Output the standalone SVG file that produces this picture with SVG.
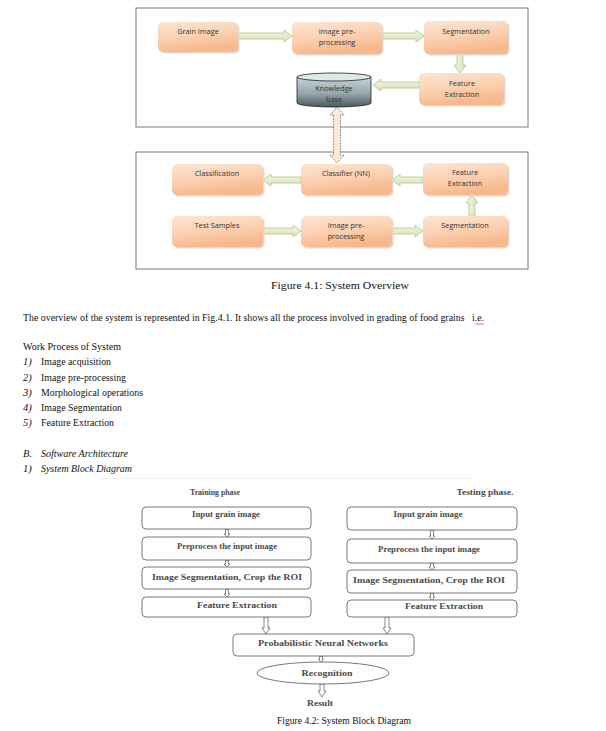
<svg xmlns="http://www.w3.org/2000/svg" width="606" height="731" viewBox="0 0 606 731">
<defs>
<linearGradient id="og" x1="0" y1="0" x2="0.3" y2="1">
<stop offset="0" stop-color="#fde6d5"/>
<stop offset="0.55" stop-color="#fbd0b0"/>
<stop offset="1" stop-color="#f6b88c"/>
</linearGradient>
<linearGradient id="gh" x1="0" y1="0" x2="0" y2="1">
<stop offset="0" stop-color="#f3f6e6"/>
<stop offset="1" stop-color="#d8e2b8"/>
</linearGradient>
<linearGradient id="gv" x1="0" y1="0" x2="1" y2="0">
<stop offset="0" stop-color="#f3f6e6"/>
<stop offset="1" stop-color="#d8e2b8"/>
</linearGradient>
<linearGradient id="cyl" x1="0" y1="0" x2="0" y2="1">
<stop offset="0" stop-color="#c6d3d7"/>
<stop offset="0.55" stop-color="#95a8ad"/>
<stop offset="1" stop-color="#4a585c"/>
</linearGradient>
</defs>
<style>
.frame{fill:#fff;stroke:#7a7a7a;stroke-width:1}
.on{fill:url(#og);stroke:none}
.sh{fill:#e9d6c9}
.nt{font-family:"Open Sans","Liberation Sans",sans-serif;font-size:7.3px;fill:#333;text-anchor:middle}
.ga{fill:url(#gh);stroke:#b4c488;stroke-width:0.8}
.gav{fill:url(#gv);stroke:#b4c488;stroke-width:0.8}
.body{font-family:"Liberation Serif","Times New Roman",serif;font-size:10.5px;fill:#111}
.it{font-style:italic}
.cap{font-family:"Liberation Serif","Times New Roman",serif;font-size:11px;fill:#111;text-anchor:middle}
.bx{fill:#fff;stroke:#6a6a6a;stroke-width:0.9}
.bt{font-family:"Liberation Serif","Times New Roman",serif;font-size:8px;font-weight:bold;fill:#4a4a4a;text-anchor:middle}
.ha{fill:#fff;stroke:#555;stroke-width:0.7}
</style>
<rect width="606" height="731" fill="#fff"/>

<!-- Figure 4.1 frames -->
<rect class="frame" x="136" y="8" width="392" height="119"/>
<rect class="frame" x="136" y="152" width="392" height="117"/>

<!-- connectors -->
<g id="connectors">
<path class="ga" d="M238,33 L284,33 L284,30 L292,36 L284,42 L284,39 L238,39 Z"/>
<path class="ga" d="M382,33 L416,33 L416,30 L424,36 L416,42 L416,39 L382,39 Z"/>
<path class="gav" d="M457,54 L457,65 L454,65 L460,73 L466,65 L463,65 L463,54 Z"/>
<path class="ga" d="M419,82 L381,82 L381,79 L373,85 L381,91 L381,88 L419,88 Z"/>
<path d="M333.5,115 L330,115 L337,107 L344,115 L340.5,115 L340.5,155 L344,155 L337,163 L330,155 L333.5,155 Z" fill="#fde9d9" stroke="#666" stroke-width="0.8" stroke-dasharray="1.6,1.2"/>
<path class="ga" d="M301,177 L271,177 L271,174 L263,180 L271,186 L271,183 L301,183 Z"/>
<path class="ga" d="M423,177 L400,177 L400,174 L392,180 L400,186 L400,183 L423,183 Z"/>
<path class="ga" d="M263,228 L293,228 L293,225 L301,231 L293,237 L293,234 L263,234 Z"/>
<path class="ga" d="M392,228 L415,228 L415,225 L423,231 L415,237 L415,234 L392,234 Z"/>
<path class="gav" d="M469,216 L469,203 L466,203 L472,195 L478,203 L475,203 L475,216 Z"/>

<!-- Figure 4.2 connectors -->
<path class="ha" d="M225.5,529.5 L225.5,534 L224,534 L227,537 L230,534 L228.5,534 L228.5,529.5 Z"/>
<path class="ha" d="M225.5,560.5 L225.5,564 L224,564 L227,567 L230,564 L228.5,564 L228.5,560.5 Z"/>
<path class="ha" d="M225.5,589.5 L225.5,594 L224,594 L227,597 L230,594 L228.5,594 L228.5,589.5 Z"/>
<path class="ha" d="M430.5,530.5 L430.5,536 L429,536 L432,539 L435,536 L433.5,536 L433.5,530.5 Z"/>
<path class="ha" d="M430.5,563.5 L430.5,567 L429,567 L432,570 L435,567 L433.5,567 L433.5,563.5 Z"/>
<path class="ha" d="M430.5,593.5 L430.5,597 L429,597 L432,600 L435,597 L433.5,597 L433.5,593.5 Z"/>
<path class="ha" d="M264,617 L264,628 L262,628 L266,634 L270,628 L268,628 L268,617 Z"/>
<path class="ha" d="M385,617 L385,628 L383,628 L387,634 L391,628 L389,628 L389,617 Z"/>
<path class="ha" d="M319.5,656.5 L319.5,659.5 L318.5,659.5 L321,662 L323.5,659.5 L322.5,659.5 L322.5,656.5 Z"/>
<path class="ha" d="M320,684 L320,691 L318,691 L322,697 L326,691 L324,691 L324,684 Z"/>
</g>

<!-- Figure 4.1 nodes -->
<g id="n_grain"><rect class="sh" x="159.5" y="23.5" width="80" height="30" rx="5"/><rect class="on" x="158" y="22" width="80" height="30" rx="5"/><text class="nt" x="198" y="34">Grain Image</text></g>
<g id="n_pre1"><rect class="sh" x="293.5" y="23.5" width="90" height="32" rx="5"/><rect class="on" x="292" y="22" width="90" height="32" rx="5"/><text class="nt" x="337" y="34">Image pre-</text><text class="nt" x="337" y="45">processing</text></g>
<g id="n_seg1"><rect class="sh" x="425.5" y="22.5" width="84" height="33" rx="5"/><rect class="on" x="424" y="21" width="84" height="33" rx="5"/><text class="nt" x="466" y="34">Segmentation</text></g>
<g id="n_feat1"><rect class="sh" x="420.5" y="74.5" width="85" height="32" rx="5"/><rect class="on" x="419" y="73" width="85" height="32" rx="5"/><text class="nt" x="462" y="86">Feature</text><text class="nt" x="462" y="97">Extraction</text></g>
<g id="n_kb">
<path d="M297,77 L297,103 A37,4 0 0 0 371,103 L371,77 Z" fill="url(#cyl)" stroke="#222" stroke-width="0.8"/>
<ellipse cx="334" cy="77" rx="37" ry="4" fill="#dfe7ea" stroke="#222" stroke-width="0.8"/>
<text class="nt" x="334" y="91">Knowledge</text><text class="nt" x="334" y="102">base</text>
</g>
<g id="n_class"><rect class="sh" x="173.5" y="165.5" width="91" height="31" rx="5"/><rect class="on" x="172" y="164" width="91" height="31" rx="5"/><text class="nt" x="217" y="176">Classification</text></g>
<g id="n_nn"><rect class="sh" x="302.5" y="165.5" width="91" height="31" rx="5"/><rect class="on" x="301" y="164" width="91" height="31" rx="5"/><text class="nt" x="346" y="176">Classifier (NN)</text></g>
<g id="n_feat2"><rect class="sh" x="424.5" y="164.5" width="85" height="32" rx="5"/><rect class="on" x="423" y="163" width="85" height="32" rx="5"/><text class="nt" x="465" y="175">Feature</text><text class="nt" x="465" y="186">Extraction</text></g>
<g id="n_test"><rect class="sh" x="173.5" y="217.5" width="91" height="31" rx="5"/><rect class="on" x="172" y="216" width="91" height="31" rx="5"/><text class="nt" x="217" y="228">Test Samples</text></g>
<g id="n_pre2"><rect class="sh" x="302.5" y="217.5" width="91" height="31" rx="5"/><rect class="on" x="301" y="216" width="91" height="31" rx="5"/><text class="nt" x="346" y="228">Image pre-</text><text class="nt" x="346" y="239">processing</text></g>
<g id="n_seg2"><rect class="sh" x="424.5" y="217.5" width="85" height="31" rx="5"/><rect class="on" x="423" y="216" width="85" height="31" rx="5"/><text class="nt" x="465" y="228">Segmentation</text></g>

<text class="cap" x="340" y="289" textLength="138" lengthAdjust="spacingAndGlyphs">Figure 4.1: System Overview</text>

<!-- Body text -->
<text class="body" x="23" y="321" textLength="461" lengthAdjust="spacingAndGlyphs" xml:space="preserve">The overview of the system is represented in Fig.4.1. It shows all the process involved in grading of food grains   i.e.</text>
<path d="M475,323.5 l1,1 l1,-1 l1,1 l1,-1 l1,1 l1,-1 l1,1 l1,-1 l1,1" fill="none" stroke="#d22" stroke-width="0.7"/>
<text class="body" x="23" y="350" textLength="98" lengthAdjust="spacingAndGlyphs">Work Process of System</text>
<text class="body it" x="23" y="365">1)</text><text class="body" x="41" y="365" textLength="70" lengthAdjust="spacingAndGlyphs">Image acquisition</text>
<text class="body it" x="23" y="381">2)</text><text class="body" x="41" y="381" textLength="85" lengthAdjust="spacingAndGlyphs">Image pre-processing</text>
<text class="body it" x="23" y="396">3)</text><text class="body" x="41" y="396" textLength="102" lengthAdjust="spacingAndGlyphs">Morphological operations</text>
<text class="body it" x="23" y="411">4)</text><text class="body" x="41" y="411" textLength="81" lengthAdjust="spacingAndGlyphs">Image Segmentation</text>
<text class="body it" x="23" y="426">5)</text><text class="body" x="41" y="426" textLength="73" lengthAdjust="spacingAndGlyphs">Feature Extraction</text>
<text class="body it" x="23" y="457">B.</text><text class="body it" x="41" y="457" textLength="87" lengthAdjust="spacingAndGlyphs">Software Architecture</text>
<text class="body it" x="23" y="472">1)</text><text class="body it" x="41" y="472" textLength="91" lengthAdjust="spacingAndGlyphs">System Block Diagram</text>
<line x1="100" y1="478.5" x2="473" y2="478.5" stroke="#eeeeee" stroke-width="0.8"/>

<!-- Figure 4.2 -->
<text class="bt" x="215" y="495" textLength="50" lengthAdjust="spacingAndGlyphs">Training phase</text>
<text class="bt" x="485" y="495" textLength="57" lengthAdjust="spacingAndGlyphs">Testing phase.</text>

<g id="b_l1"><rect class="bx" x="142" y="507" width="169" height="22" rx="4"/><text class="bt" x="226" y="517" textLength="68" lengthAdjust="spacingAndGlyphs">Input grain image</text></g>
<g id="b_l2"><rect class="bx" x="142" y="537" width="169" height="23" rx="4"/><text class="bt" x="227" y="549" textLength="100" lengthAdjust="spacingAndGlyphs">Preprocess the input image</text></g>
<g id="b_l3"><rect class="bx" x="142" y="567" width="169" height="22" rx="4"/><text class="bt" x="227" y="580" textLength="150" lengthAdjust="spacingAndGlyphs">Image Segmentation, Crop the ROI</text></g>
<g id="b_l4"><rect class="bx" x="142" y="597" width="169" height="20" rx="4"/><text class="bt" x="237" y="608" textLength="80" lengthAdjust="spacingAndGlyphs">Feature Extraction</text></g>
<g id="b_r1"><rect class="bx" x="347" y="507" width="170" height="23" rx="4"/><text class="bt" x="428" y="517" textLength="69" lengthAdjust="spacingAndGlyphs">Input grain image</text></g>
<g id="b_r2"><rect class="bx" x="347" y="539" width="170" height="24" rx="4"/><text class="bt" x="429" y="552" textLength="102" lengthAdjust="spacingAndGlyphs">Preprocess the input image</text></g>
<g id="b_r3"><rect class="bx" x="347" y="570" width="170" height="23" rx="4"/><text class="bt" x="429" y="583" textLength="152" lengthAdjust="spacingAndGlyphs">Image Segmentation, Crop the ROI</text></g>
<g id="b_r4"><rect class="bx" x="347" y="600" width="170" height="17" rx="4"/><text class="bt" x="444" y="609" textLength="78" lengthAdjust="spacingAndGlyphs">Feature Extraction</text></g>
<g id="b_pnn"><rect class="bx" x="233" y="634" width="181" height="22" rx="4"/><text class="bt" x="323" y="646" textLength="130" lengthAdjust="spacingAndGlyphs">Probabilistic Neural Networks</text></g>
<g id="b_rec"><ellipse class="bx" cx="323" cy="673" rx="66" ry="11"/><text class="bt" x="327" y="676" textLength="51" lengthAdjust="spacingAndGlyphs">Recognition</text></g>
<g id="b_res"><text class="bt" x="320" y="706" textLength="26" lengthAdjust="spacingAndGlyphs">Result</text></g>

<text class="cap" x="344" y="724" textLength="134" lengthAdjust="spacingAndGlyphs">Figure 4.2: System Block Diagram</text>
</svg>
